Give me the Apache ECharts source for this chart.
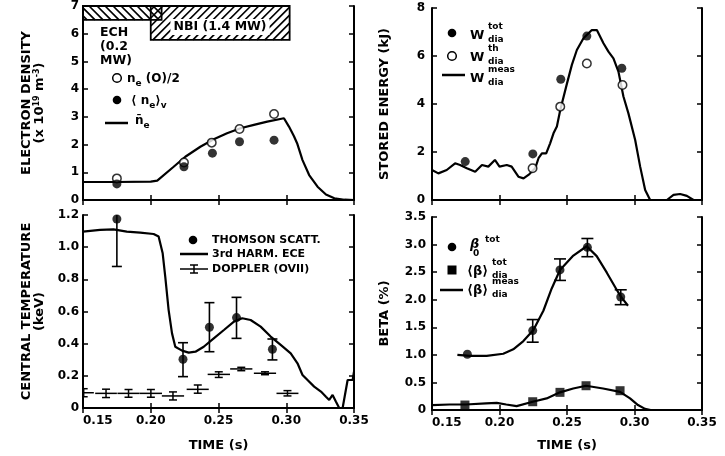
<!DOCTYPE html>
<html>
<head>
<meta charset="utf-8">
<script src="https://cdn.jsdelivr.net/npm/echarts@6/dist/echarts.min.js"></script>
<style>html,body{margin:0;background:#fff}#chart{width:725px;height:456px}</style>
</head>
<body>
<div id="chart"></div>
<script>
const FONT = 'DejaVu Sans';
const TIME_TICKS = [0.15, 0.20, 0.25, 0.30, 0.35];

// top left: electron density (x 10^19 m^-3)
const NE_BAR = [[0.15,0.65],[0.175,0.65],[0.2,0.66],[0.2048,0.70],[0.2169,1.2],[0.2255,1.56],[0.2366,1.92],
  [0.2465,2.19],[0.2563,2.41],[0.2662,2.59],[0.2761,2.71],[0.286,2.83],[0.2983,2.95],[0.302,2.65],
  [0.3057,2.3],[0.308,2.05],[0.312,1.44],[0.3169,0.9],[0.3231,0.48],[0.3293,0.2],[0.3355,0.06],[0.343,0.01],[0.35,0]];
const NE0_HALF = [[0.175,0.78],[0.2245,1.35],[0.245,2.07],[0.2655,2.56],[0.291,3.1]];
const NE_VOL = [[0.175,0.58],[0.2245,1.2],[0.2455,1.69],[0.2655,2.1],[0.291,2.16]];
// heating windows: [t start, t end, y bottom, y top]
const HEATING = [[0.15,0.208,6.5,7],[0.20,0.3025,5.78,7]];
const HATCH_DIR = [-1, 1];

// top right: stored energy (kJ)
const W_MEAS = [[0.15,1.25],[0.1547,1.11],[0.1609,1.25],[0.1671,1.53],[0.1708,1.46],[0.1758,1.32],[0.182,1.18],
  [0.187,1.46],[0.1917,1.39],[0.1966,1.67],[0.2,1.39],[0.2054,1.46],[0.209,1.39],[0.214,0.97],[0.2178,0.9],
  [0.2222,1.08],[0.2264,1.32],[0.2289,1.74],[0.2314,1.94],[0.2346,1.94],[0.2375,2.36],[0.24,2.78],[0.2425,3.06],
  [0.245,3.75],[0.25,4.86],[0.2536,5.63],[0.2573,6.25],[0.2622,6.74],[0.2684,7.08],[0.2721,7.08],[0.277,6.53],
  [0.2807,6.18],[0.2844,5.9],[0.2881,5.35],[0.2918,4.31],[0.2955,3.61],[0.3005,2.5],[0.3042,1.39],[0.3079,0.42],
  [0.3116,0],[0.324,0],[0.3289,0.21],[0.3338,0.25],[0.3388,0.17],[0.3437,0],[0.35,0]];
const W_TOT = [[0.1746,1.6],[0.2247,1.92],[0.2454,5.03],[0.2647,6.83],[0.2906,5.49]];
const W_TH = [[0.2245,1.32],[0.245,3.89],[0.2647,5.69],[0.2911,4.79]];

// bottom left: central temperature (keV)
const TE_ECE = [[0.15,1.097],[0.1626,1.107],[0.1725,1.111],[0.1823,1.097],[0.1922,1.09],[0.2021,1.082],[0.2058,1.066],
  [0.2088,0.962],[0.2107,0.817],[0.2132,0.609],[0.2157,0.464],[0.2181,0.381],[0.2231,0.357],[0.228,0.344],
  [0.233,0.35],[0.2391,0.381],[0.2465,0.433],[0.254,0.485],[0.2614,0.537],[0.2675,0.558],[0.2737,0.547],
  [0.2811,0.506],[0.2885,0.444],[0.2959,0.392],[0.3033,0.34],[0.3083,0.278],[0.312,0.205],[0.3157,0.174],
  [0.3206,0.133],[0.3256,0.102],[0.3293,0.07],[0.3317,0.05],[0.3342,0.081],[0.3367,0.039],[0.3391,0],
  [0.3416,0],[0.3453,0.174],[0.349,0.174],[0.35,0.226]];
const TE_THOMSON = [[0.175,1.175],[0.2238,0.303],[0.2433,0.502],[0.2633,0.562],[0.2898,0.365]];
const TE_THOMSON_ERR = [[0.175,0.88,1.47],[0.2238,0.195,0.406],[0.2433,0.35,0.655],[0.2633,0.433,0.688],[0.2898,0.299,0.429]];
// [t, value, low, high, t low, t high]
const TI_DOPPLER = [[0.1505,0.095,0.07,0.12,0.15,0.158],[0.167,0.091,0.065,0.117,0.159,0.175],
  [0.1836,0.091,0.067,0.115,0.1754,0.1918],[0.2001,0.091,0.067,0.115,0.1919,0.2083],
  [0.2164,0.075,0.05,0.10,0.2082,0.2246],[0.2347,0.116,0.092,0.143,0.2265,0.2428],
  [0.2502,0.209,0.19,0.225,0.242,0.2585],[0.2668,0.243,0.232,0.253,0.2586,0.275],
  [0.2843,0.216,0.207,0.225,0.2761,0.2925],[0.3009,0.091,0.075,0.108,0.2928,0.309]];

// bottom right: beta (%)
const BETA_MEAS = [[0.1688,1.0],[0.1781,0.98],[0.1905,0.98],[0.2028,1.02],[0.2102,1.1],[0.2177,1.25],[0.2251,1.45],
  [0.2325,1.8],[0.2386,2.2],[0.2448,2.54],[0.2547,2.8],[0.2646,2.97],[0.272,2.79],[0.2795,2.49],[0.2868,2.18],
  [0.2898,2.06],[0.2952,1.89]];
const BETA_MEAS_LOW = [[0.15,0.09],[0.163,0.1],[0.175,0.1],[0.19,0.12],[0.198,0.13],[0.205,0.1],[0.2127,0.07],
  [0.2246,0.15],[0.2349,0.21],[0.2448,0.32],[0.2546,0.39],[0.2641,0.44],[0.2767,0.39],[0.2893,0.33],
  [0.2967,0.21],[0.3026,0.09],[0.3078,0.02],[0.312,0],[0.35,0]];
const BETA0_TOT = [[0.1762,1.01],[0.2246,1.44],[0.2448,2.54],[0.2651,2.95],[0.2898,2.05]];
const BETA0_ERR = [[0.2246,1.23,1.64],[0.2448,2.35,2.74],[0.2651,2.78,3.11],[0.2898,1.91,2.18]];
const BETA_DIA_TOT = [[0.1744,0.09],[0.2246,0.15],[0.2448,0.32],[0.2641,0.44],[0.2893,0.35]];

const chart = echarts.init(document.getElementById('chart'), null, { renderer: 'canvas' });

const labelFont = { fontFamily: FONT, fontWeight: 'bold', fontSize: 12, color: '#000' };
const nameFont = { fontFamily: FONT, fontWeight: 'bold', fontSize: 13, color: '#000' };
const lineAxis = { lineStyle: { color: '#000', width: 2 } };
const tickIn = { show: true, inside: true, length: 5, lineStyle: { color: '#000', width: 1.5 } };

const grids = [
  { left: 83, right: 371, top: 6, height: 194 },
  { left: 432, right: 23, top: 8, height: 192 },
  { left: 83, right: 371, top: 215, height: 193 },
  { left: 432, right: 23, top: 217, height: 193 }
].map(g => Object.assign({ outerBoundsMode: 'none', containLabel: false }, g));

const xAxes = [];
const yAxes = [];
function addX(grid, withLabels, labelMargin, nameGap) {
  const base = {
    type: 'value', gridIndex: grid, min: TIME_TICKS[0], max: TIME_TICKS[TIME_TICKS.length - 1],
    interval: TIME_TICKS[1] - TIME_TICKS[0], axisLine: lineAxis, axisTick: tickIn, splitLine: { show: false }
  };
  xAxes.push(Object.assign({}, base, {
    position: 'bottom',
    axisLabel: withLabels ? Object.assign({ margin: labelMargin, alignMinLabel: 'left',
      formatter: v => v.toFixed(2) }, labelFont) : { show: false },
    name: withLabels ? 'TIME (s)' : '', nameLocation: 'middle', nameGap: nameGap, nameTextStyle: nameFont
  }));
  xAxes.push(Object.assign({}, base, { position: 'top', axisLabel: { show: false } }));
}
function addY(grid, ticks, fmt, name, nameGap, margin, rich) {
  const base = {
    type: 'value', gridIndex: grid, min: ticks[0], max: ticks[ticks.length - 1], interval: ticks[1] - ticks[0],
    axisLine: lineAxis, axisTick: tickIn, splitLine: { show: false }
  };
  yAxes.push(Object.assign({}, base, {
    position: 'left',
    axisLabel: Object.assign({ margin: margin, formatter: fmt }, labelFont),
    name: name, nameLocation: 'middle', nameRotate: 90, nameGap: nameGap,
    nameTextStyle: Object.assign({ lineHeight: 13, rich: rich || {} }, nameFont)
  }));
  yAxes.push(Object.assign({}, base, { position: 'right', axisLabel: { show: false } }));
}

const intFmt = v => String(Math.round(v));
const decFmt = v => (v === 0 ? '0' : v.toFixed(1));
const supRich = {
  a: { fontFamily: FONT, fontWeight: 'bold', fontSize: 13, lineHeight: 13 },
  sup: { fontFamily: FONT, fontWeight: 'bold', fontSize: 8, verticalAlign: 'top', lineHeight: 13 }
};

addX(0, false); addY(0, [0, 1, 2, 3, 4, 5, 6, 7], intFmt,
  '{a|ELECTRON DENSITY}\n{a|(x 10}{sup|19}{a| m}{sup|-3}{a|)}', 37, 4, supRich);
addX(1, false); addY(1, [0, 2, 4, 6, 8], intFmt, 'STORED ENERGY (kJ)', 41, 7);
addX(2, true, 7, 31); addY(2, [0, 0.2, 0.4, 0.6, 0.8, 1.0, 1.2], decFmt, 'CENTRAL TEMPERATURE\n(keV)', 37, 4);
addX(3, true, 7, 29); addY(3, [0, 0.5, 1.0, 1.5, 2.0, 2.5, 3.0, 3.5], decFmt, 'BETA (%)', 41, 6);

// hatched heating boxes, hatch strokes clipped to each box
function renderHatch(params, api) {
  const a = api.coord([api.value(0), api.value(3)]);
  const b = api.coord([api.value(1), api.value(2)]);
  const L = a[0], T = a[1], R = b[0], B = b[1];
  const step = 8;
  let d = '';
  if (HATCH_DIR[params.dataIndex] > 0) {
    for (let c = L + T + step / 2; c < R + B; c += step) {
      const xa = Math.max(L, c - B), xb = Math.min(R, c - T);
      if (xb > xa) d += 'M' + xa.toFixed(1) + ' ' + (c - xa).toFixed(1) + 'L' + xb.toFixed(1) + ' ' + (c - xb).toFixed(1);
    }
  } else {
    for (let c = L - B + step / 2; c < R - T; c += step) {
      const xa = Math.max(L, T + c), xb = Math.min(R, B + c);
      if (xb > xa) d += 'M' + xa.toFixed(1) + ' ' + (xa - c).toFixed(1) + 'L' + xb.toFixed(1) + ' ' + (xb - c).toFixed(1);
    }
  }
  return { type: 'group', children: [
    { type: 'path', shape: { pathData: d }, style: { fill: null, stroke: '#000', lineWidth: 1.7 } },
    { type: 'rect', shape: { x: L, y: T, width: R - L, height: B - T },
      style: { fill: null, stroke: '#000', lineWidth: 1.8 } }
  ] };
}

function errBar(cap) {
  return function (params, api) {
    const a = api.coord([api.value(0), api.value(1)]);
    const b = api.coord([api.value(0), api.value(2)]);
    const st = { stroke: '#000', lineWidth: 1.6 };
    return { type: 'group', children: [
      { type: 'line', shape: { x1: a[0], y1: a[1], x2: b[0], y2: b[1] }, style: st },
      { type: 'line', shape: { x1: a[0] - cap, y1: a[1], x2: a[0] + cap, y2: a[1] }, style: st },
      { type: 'line', shape: { x1: b[0] - cap, y1: b[1], x2: b[0] + cap, y2: b[1] }, style: st }
    ] };
  };
}

function renderDoppler(params, api) {
  const t = api.value(0), v = api.value(1);
  const lo = api.coord([t, api.value(2)]), hi = api.coord([t, api.value(3)]);
  const l = api.coord([api.value(4), v]), r = api.coord([api.value(5), v]);
  const st = { stroke: '#000', lineWidth: 1.5 };
  const cap = 4;
  return { type: 'group', children: [
    { type: 'line', shape: { x1: l[0], y1: l[1], x2: r[0], y2: r[1] }, style: st },
    { type: 'line', shape: { x1: lo[0], y1: lo[1], x2: hi[0], y2: hi[1] }, style: st },
    { type: 'line', shape: { x1: lo[0] - cap, y1: lo[1], x2: lo[0] + cap, y2: lo[1] }, style: st },
    { type: 'line', shape: { x1: hi[0] - cap, y1: hi[1], x2: hi[0] + cap, y2: hi[1] }, style: st }
  ] };
}

const solid = { color: '#000', width: 2.2 };
const filled = { color: '#000' };
const open = { color: '#fff', borderColor: '#000', borderWidth: 1.5 };
function ax(g) { return { xAxisIndex: 2 * g, yAxisIndex: 2 * g }; }

const series = [
  Object.assign({ type: 'custom', data: HEATING, renderItem: renderHatch, clip: false }, ax(0)),
  Object.assign({ type: 'line', data: NE_BAR, showSymbol: false, lineStyle: solid }, ax(0)),
  Object.assign({ type: 'scatter', data: NE0_HALF, symbolSize: 8.5, itemStyle: open, z: 5 }, ax(0)),
  Object.assign({ type: 'scatter', data: NE_VOL, symbolSize: 9, itemStyle: filled, z: 5 }, ax(0)),

  Object.assign({ type: 'line', data: W_MEAS, showSymbol: false, lineStyle: solid }, ax(1)),
  Object.assign({ type: 'scatter', data: W_TOT, symbolSize: 9, itemStyle: filled, z: 5 }, ax(1)),
  Object.assign({ type: 'scatter', data: W_TH, symbolSize: 8.5, itemStyle: open, z: 5 }, ax(1)),

  Object.assign({ type: 'line', data: TE_ECE, showSymbol: false, lineStyle: solid }, ax(2)),
  Object.assign({ type: 'custom', data: TE_THOMSON_ERR, renderItem: errBar(5), clip: true }, ax(2)),
  Object.assign({ type: 'scatter', data: TE_THOMSON, symbolSize: 9, itemStyle: filled, z: 5 }, ax(2)),
  Object.assign({ type: 'custom', data: TI_DOPPLER, renderItem: renderDoppler, clip: true }, ax(2)),

  Object.assign({ type: 'line', data: BETA_MEAS, showSymbol: false, lineStyle: solid }, ax(3)),
  Object.assign({ type: 'line', data: BETA_MEAS_LOW, showSymbol: false, lineStyle: solid }, ax(3)),
  Object.assign({ type: 'custom', data: BETA0_ERR, renderItem: errBar(6), clip: true }, ax(3)),
  Object.assign({ type: 'scatter', data: BETA0_TOT, symbolSize: 9, itemStyle: filled, z: 5 }, ax(3)),
  Object.assign({ type: 'scatter', data: BETA_DIA_TOT, symbol: 'rect', symbolSize: 9, itemStyle: filled, z: 5 }, ax(3))
];

// legends and annotations
function txt(x, y, text, size, extra) {
  return { type: 'text', x: x, y: y, z: 20, style: Object.assign({ text: text, fontFamily: FONT, fontWeight: 'bold',
    fontSize: size, fill: '#000', align: 'left', verticalAlign: 'middle' }, extra || {}) };
}
function dot(cx, cy, hollow) {
  return { type: 'circle', z: 20, shape: { cx: cx, cy: cy, r: 4.3 },
    style: hollow ? { fill: '#fff', stroke: '#000', lineWidth: 1.5 } : { fill: '#000' } };
}
function seg(x1, y1, x2, y2, w) {
  return { type: 'line', z: 20, shape: { x1: x1, y1: y1, x2: x2, y2: y2 }, style: { stroke: '#000', lineWidth: w || 2.2 } };
}
const subRich = {
  m: { fontFamily: FONT, fontWeight: 'bold', fontSize: 12, lineHeight: 18 },
  s: { fontFamily: FONT, fontWeight: 'bold', fontSize: 9, verticalAlign: 'bottom', lineHeight: 12 }
};
function stacked(x, y, main, sup, sub, mainExtra) {
  return [txt(x, y, main, 13, mainExtra), txt(x + 18, y - 9, sup, 9), txt(x + 18, y + 4, sub, 9)];
}

const graphic = [
  // heating annotations
  txt(100, 33, 'ECH', 12.5), txt(100, 47, '(0.2', 12.5), txt(100, 61, 'MW)', 12.5),
  txt(220, 27, 'NBI (1.4 MW)', 12.5, { align: 'center', backgroundColor: '#fff', padding: [2, 3, 1, 3] }),
  // electron density legend
  dot(117, 78, true), txt(127, 79, '{m|n}{s|e}{m| (O)/2}', 12, { rich: subRich }),
  dot(117, 100, false), txt(131, 101, '{m|⟨ n}{s|e}{m|⟩}{s|v}', 12, { rich: subRich }),
  seg(105, 123, 128, 123, 2.5), txt(135, 121, '{m|n\u0304}{s|e}', 12, { rich: subRich }),
  // stored energy legend
  dot(452, 33, false), ...stacked(470, 36, 'W', 'tot', 'dia'),
  dot(452, 56, true), ...stacked(470, 58, 'W', 'th', 'dia'),
  seg(442, 75, 465, 75, 2.5), ...stacked(470, 79, 'W', 'meas', 'dia'),
  // temperature legend
  dot(193, 240, false), txt(212, 240, 'THOMSON SCATT.', 11),
  seg(180, 254, 208, 254, 2.5), txt(212, 254, '3rd HARM. ECE', 11),
  seg(180, 269, 208, 269, 1.5), seg(194, 265, 194, 273, 1.5), seg(190, 265, 198, 265, 1.5),
  seg(190, 273, 198, 273, 1.5), txt(212, 269, 'DOPPLER (OVII)', 11),
  // beta legend
  dot(452, 247, false), txt(470, 245, 'β', 13, { fontStyle: 'italic' }), txt(473, 254, '0', 9), txt(485, 240, 'tot', 9),
  { type: 'rect', z: 20, shape: { x: 447.5, y: 265.5, width: 9, height: 9 }, style: { fill: '#000' } },
  ...stacked(467, 272, '⟨β⟩', 'tot', 'dia').map((e, i) => (i ? Object.assign(e, { x: e.x + 7 }) : e)),
  seg(440, 290, 463, 290, 2.5),
  ...stacked(467, 291, '⟨β⟩', 'meas', 'dia').map((e, i) => (i ? Object.assign(e, { x: e.x + 7 }) : e))
];

chart.setOption({
  animation: false,
  backgroundColor: '#fff',
  grid: grids,
  xAxis: xAxes,
  yAxis: yAxes,
  series: series,
  graphic: graphic
});
</script>
</body>
</html>
